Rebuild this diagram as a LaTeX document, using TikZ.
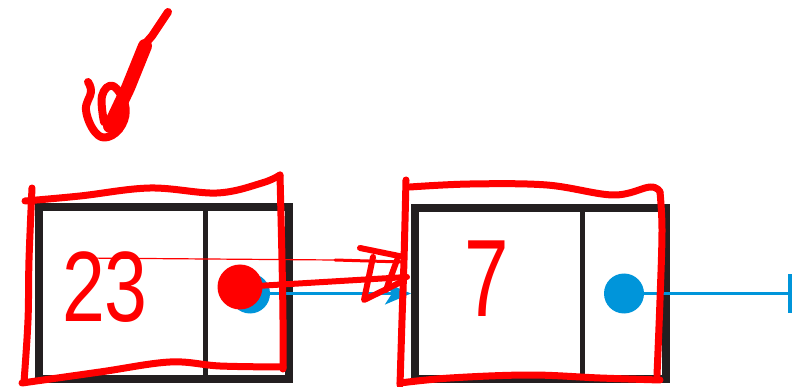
\documentclass[tikz,border=0pt]{standalone}
\usepackage{fontspec}
\setmainfont{Liberation Sans}
\usetikzlibrary{arrows.meta}
\definecolor{boxblack}{HTML}{231F20}
\definecolor{ptrblue}{HTML}{0095DA}
\definecolor{pen}{HTML}{FF0000}
\begin{document}
\begin{tikzpicture}[x=1pt,y=-1pt,
  cell/.style={draw=boxblack, line width=8pt, inner sep=0pt, minimum height=172pt},
  divider/.style={draw=boxblack, line width=4.5pt},
  ptr/.style={circle, fill=ptrblue, minimum size=40pt, inner sep=0pt},
  link/.style={draw=ptrblue, line width=3pt},
  pen/.style={draw=pen, line width=7pt, line cap=round, line join=round},
  thinpen/.style={draw=pen, line width=1.2pt, line cap=round},
  digits/.style={text=pen, inner sep=0pt, font=\fontsize{100}{100}\selectfont}
]
\useasboundingbox (0,0) rectangle (803,387);
% black list cells
\node[cell, minimum width=250pt] (box1) at (164,293) {};
\node[cell, minimum width=251pt, minimum height=171pt] (box2) at (540.5,293.5) {};
\draw[divider] (205.5,207) -- (205.5,379);
\draw[divider] (582.5,208) -- (582.5,379);
% blue pointers
\node[ptr] (dot1) at (250,293.5) {};
\node[ptr] (dot2) at (624,293.5) {};
\coordinate (nil) at (791.5,293.5);
\draw[link, -{Stealth[length=26pt,width=22pt,inset=7pt]}] (dot1.center) -- (box2.west);
\draw[link, -{Bar[width=38pt,line width=4pt]}] (dot2.center) -- (nil);
% red annotations: boxes
\draw[pen] plot[smooth, tension=0.6] coordinates {(32,188) (29,260) (28,320) (24,382)};
\draw[pen] plot[smooth, tension=0.6] coordinates {(25,201) (80,196) (150,188) (217,193) (262,183) (280,175)};
\draw[pen] plot[smooth, tension=0.6] coordinates {(280,175) (282,260) (283,320) (283,369)};
\draw[pen] plot[smooth, tension=0.6] coordinates {(22,383) (100,372) (170,362) (220,366) (283,367)};
\draw[pen] plot[smooth, tension=0.6] coordinates {(406,180) (404,260) (402,320) (400,385)};
\draw[pen] plot[smooth, tension=0.6] coordinates {(410,187) (470,184) (547,185) (613,195) (650,187) (660,192)};
\draw[pen] plot[smooth, tension=0.6] coordinates {(660,192) (662,230) (660,300) (657,375)};
\draw[pen] plot[smooth, tension=0.6] coordinates {(400,383) (450,378) (530,375) (600,378) (660,380)};
% red check mark
\draw[pen, line width=8pt] (145,44) -- (152,36) -- (168,12);
\draw[pen, line width=14pt] (110,126) -- (128,88) -- (145,46);
\draw[pen, line width=8pt] plot[smooth, tension=0.7] coordinates {(88,82) (91,92) (86,110) (95,132) (108,137) (122,125) (125,105) (113,86) (102,96) (104,122)};
% red digits
\node[digits] (d23) at (105,287) {\scalebox{0.77}[1]{23}};
\node[digits] (d7) at (487,279) {\scalebox{0.8}[1.1]{7}};
% red dot and arrow
\node[circle, fill=pen, minimum size=45pt, inner sep=0pt] (rdot) at (240,287) {};
\coordinate (rtip) at (407,277);
\coordinate (rstart) at (80,258);
\coordinate (rmid) at (335,260);
\coordinate (rend) at (402,262);
\draw[pen, line width=6pt] (rdot.center) -- (rtip);
\draw[thinpen] (rstart) -- (rmid);
\draw[pen, line width=3pt] (rmid) -- (rend);
\draw[pen, line width=6pt] (360,248) -- (404,257);
\draw[pen, line width=6pt] (373,257) -- (364,300) -- (403,281);
\draw[pen, line width=6pt] (397,260) -- (386,290);
\end{tikzpicture}
\end{document}
